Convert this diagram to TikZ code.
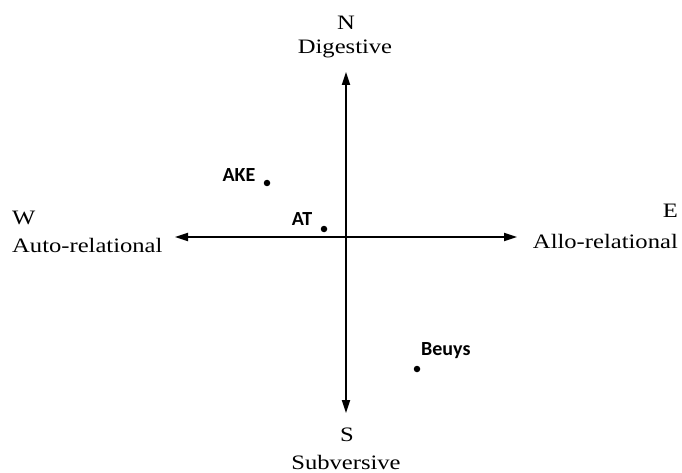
\documentclass[tikz,border=0pt]{standalone}
\usepackage{fontspec}
\setmainfont{Liberation Serif}[FakeStretch=1.2]
\newfontfamily\labfont{Carlito}
\usetikzlibrary{arrows.meta}
\begin{document}
\begin{tikzpicture}[x=1pt,y=-1pt,
  axis/.style={line width=1.8pt,{Triangle[length=13pt,width=8pt]}-{Triangle[length=13pt,width=8pt]}},
  dirlab/.style={font=\fontsize{20.5}{22}\selectfont,inner sep=0pt},
  ptlab/.style={font=\labfont\bfseries\fontsize{20}{22}\selectfont,inner sep=0pt},
  pt/.style={circle,fill=black,inner sep=0pt,minimum size=6.5pt}]
\useasboundingbox (0,0) rectangle (682,473);
\coordinate (ntip) at (346,72);
\coordinate (stip) at (346,413);
\coordinate (wtip) at (175,237);
\coordinate (etip) at (517,237);
\draw[axis] (ntip) -- (stip);
\draw[axis] (wtip) -- (etip);
\node[dirlab] (N) at (346,23) {N};
\node[dirlab] (Nl) at (345,49) {Digestive};
\node[dirlab,anchor=west] (W) at (12,218) {W};
\node[dirlab,anchor=west] (Wl) at (12,245) {Auto-relational};
\node[dirlab,anchor=east] (E) at (678,211) {E};
\node[dirlab,anchor=east] (El) at (678,241) {Allo-relational};
\node[dirlab] (S) at (347,435) {S};
\node[dirlab] (Sl) at (346,462) {Subversive};
\node[pt] (ake) at (267,183) {};
\node[ptlab] (akel) at (239,175) {AKE};
\node[pt] (at) at (324,229) {};
\node[ptlab] (atl) at (302,219) {AT};
\node[pt] (beuys) at (417,369) {};
\node[ptlab,anchor=west] (beuysl) at (421,351) {Beuys};
\end{tikzpicture}
\end{document}
